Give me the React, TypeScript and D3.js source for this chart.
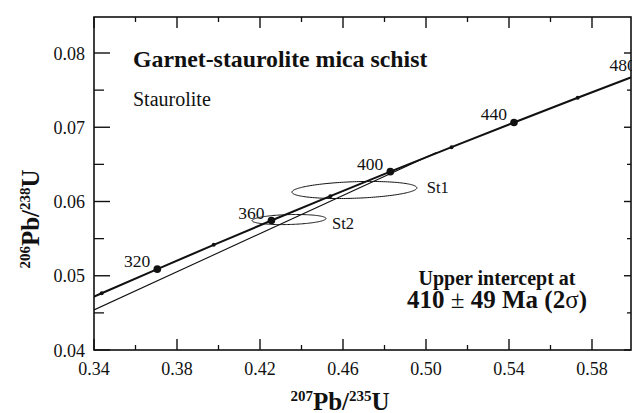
import React from "react";
import * as d3 from "d3";

// concordia points (age in Ma, 207Pb/235U, 206Pb/238U)
const concAges = [280, 300, 320, 340, 360, 380, 400, 420, 440, 460, 480, 500];
const concX = [0.3175, 0.3437, 0.3705, 0.3977, 0.4255, 0.4539, 0.4828, 0.5123, 0.5424, 0.5731, 0.6044, 0.6363];
const concY = [0.04439, 0.04764, 0.05089, 0.05416, 0.05744, 0.06072, 0.06402, 0.06732, 0.07064, 0.07397, 0.0773, 0.08065];
const bigAges = [320, 360, 400, 440, 480];
const smallAges = [300, 340, 380, 420, 460];

// discordia line through the upper intercept
const discX = [0.34, 0.505];
const discY = [0.0454, 0.0666];

// error ellipses (2 sigma)
const ellNames = ["St1", "St2"];
const ellX = [0.4655, 0.434];
const ellY = [0.06155, 0.05757];
const ellSx = [0.0301, 0.0178];
const ellSy = [0.00115, 0.00068];
const ellRho = [0.25, 0.2];

const xMajor = [0.34, 0.38, 0.42, 0.46, 0.5, 0.54, 0.58];
const xMinor = [0.36, 0.4, 0.44, 0.48, 0.52, 0.56];
const yMajor = [0.04, 0.05, 0.06, 0.07, 0.08];
const yMinor = [0.045, 0.055, 0.065, 0.075];

const W = 632;
const H = 413;
const L = 94, R = 631, T = 17, B = 350;
const FONT = "'Liberation Serif', 'Times New Roman', serif";

const App: React.FC = () => {
  const x = d3.scaleLinear().domain([0.34, 0.58]).range([L, 592]);
  const y = d3.scaleLinear().domain([0.04, 0.08]).range([B, 53]);

  const concPts: [number, number][] = concX.map((v, i) => [v, concY[i]]);
  const concPath = d3.line<[number, number]>()
    .x((d) => x(d[0]))
    .y((d) => y(d[1]))
    .curve(d3.curveCatmullRom)(concPts) || "";

  const discPath = d3.line<number>()
    .x((d) => x(d))
    .y((_, i) => y(discY[i]))(discX) || "";

  const ellipsePath = (i: number) => {
    const ts = d3.range(0, 2 * Math.PI + 0.01, Math.PI / 90);
    const k = Math.sqrt(1 - ellRho[i] * ellRho[i]);
    return d3.line<number>()
      .x((t) => x(ellX[i] + ellSx[i] * Math.cos(t)))
      .y((t) => y(ellY[i] + ellSy[i] * (ellRho[i] * Math.cos(t) + k * Math.sin(t))))
      .curve(d3.curveLinearClosed)(ts) || "";
  };

  const ageIdx = (a: number) => concAges.indexOf(a);

  return (
    <>
      <style>{`body{margin:0}`}</style>
      <svg width={W} height={H} style={{ display: "block", background: "#fff" }} fontFamily={FONT}>
        <defs>
          <clipPath id="plot">
            <rect x={L} y={T} width={R - L} height={B - T} />
          </clipPath>
        </defs>

        <g clipPath="url(#plot)">
          <path d={discPath} fill="none" stroke="#111" strokeWidth={1.1} />
          <path d={concPath} fill="none" stroke="#111" strokeWidth={2.1} />
          {ellNames.map((n, i) => (
            <path key={n} d={ellipsePath(i)} fill="none" stroke="#111" strokeWidth={1} />
          ))}
          {smallAges.map((a) => (
            <circle key={a} cx={x(concX[ageIdx(a)])} cy={y(concY[ageIdx(a)])} r={2} fill="#111" />
          ))}
          {bigAges.map((a) => (
            <circle key={a} cx={x(concX[ageIdx(a)])} cy={y(concY[ageIdx(a)])} r={3.8} fill="#111" />
          ))}
        </g>

        {bigAges.map((a) => (
          <text key={a} x={x(concX[ageIdx(a)]) - 7} y={y(concY[ageIdx(a)]) - 2}
            textAnchor="end" fontSize={17.5} fill="#111">{a}</text>
        ))}

        {ellNames.map((n, i) => (
          <text key={n} x={x(ellX[i] + ellSx[i]) + (i === 0 ? 10 : 6)} y={y(ellY[i]) + (i === 0 ? 3 : 9)}
            fontSize={16.5} fill="#111">{n}</text>
        ))}

        {/* frame */}
        <rect x={L} y={T} width={R - L} height={B - T} fill="none" stroke="#111" strokeWidth={1.6} />

        {/* x ticks, bottom and top */}
        {xMajor.map((v) => (
          <g key={"xM" + v}>
            <line x1={x(v)} x2={x(v)} y1={B} y2={B - 11} stroke="#111" strokeWidth={1.4} />
            <line x1={x(v)} x2={x(v)} y1={T} y2={T + 11} stroke="#111" strokeWidth={1.4} />
            <text x={x(v)} y={375} textAnchor="middle" fontSize={18} fill="#111">{v.toFixed(2)}</text>
          </g>
        ))}
        {xMinor.map((v) => (
          <g key={"xm" + v}>
            <line x1={x(v)} x2={x(v)} y1={B} y2={B - 5} stroke="#111" strokeWidth={1.3} />
            <line x1={x(v)} x2={x(v)} y1={T} y2={T + 5} stroke="#111" strokeWidth={1.3} />
          </g>
        ))}

        {/* y ticks, left and right */}
        {yMajor.map((v) => (
          <g key={"yM" + v}>
            <line x1={L} x2={L + 16} y1={y(v)} y2={y(v)} stroke="#111" strokeWidth={1.4} />
            <line x1={R} x2={R - 7} y1={y(v)} y2={y(v)} stroke="#111" strokeWidth={1.4} />
            <text x={85} y={y(v) + 6.5} textAnchor="end" fontSize={18} fill="#111">{v.toFixed(2)}</text>
          </g>
        ))}
        {yMinor.map((v) => (
          <g key={"ym" + v}>
            <line x1={L} x2={L + 10} y1={y(v)} y2={y(v)} stroke="#111" strokeWidth={1.3} />
            <line x1={R} x2={R - 4} y1={y(v)} y2={y(v)} stroke="#111" strokeWidth={1.3} />
          </g>
        ))}

        {/* annotations */}
        <text x={133} y={67} fontSize={23.8} fontWeight="bold" fill="#111">Garnet-staurolite mica schist</text>
        <text x={133} y={106} fontSize={20} fill="#111">Staurolite</text>
        <text x={497} y={285} textAnchor="middle" fontSize={20} fontWeight="bold" fill="#111">Upper intercept at</text>
        <text x={497} y={308} textAnchor="middle" fontSize={25} fontWeight="bold" fill="#111">
          410<tspan fontWeight="normal"> ± </tspan>49 Ma (2<tspan fontWeight="normal">σ</tspan>)
        </text>

        {/* axis titles */}
        <text x={340} y={410} textAnchor="middle" fontWeight="bold" fill="#111" fontSize={25}>
          <tspan fontSize={15} dy={-9}>207</tspan>
          <tspan dy={9}>Pb/</tspan>
          <tspan fontSize={15} dy={-9}>235</tspan>
          <tspan dy={9}>U</tspan>
        </text>
        <text transform="translate(39,219) rotate(-90)" textAnchor="middle" fontWeight="bold" fill="#111" fontSize={25}>
          <tspan fontSize={15} dy={-9}>206</tspan>
          <tspan dy={9}>Pb/</tspan>
          <tspan fontSize={15} dy={-9}>238</tspan>
          <tspan dy={9}>U</tspan>
        </text>
      </svg>
    </>
  );
};

export default App;
